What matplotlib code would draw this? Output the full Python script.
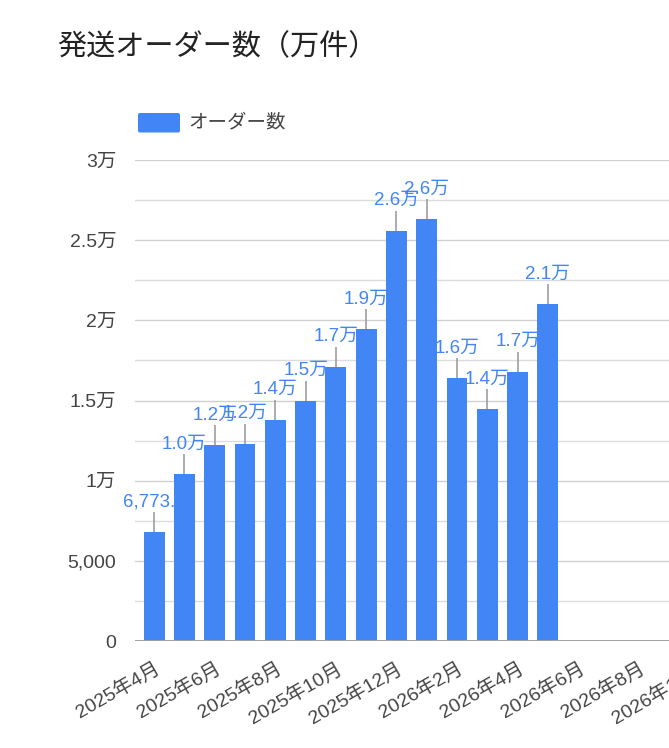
import matplotlib
matplotlib.use('Agg')
import matplotlib.pyplot as plt
from matplotlib.patches import FancyBboxPatch

# Latin digits from Liberation Sans, kana / kanji fall back to Noto CJK
plt.rcParams['font.family'] = ['Liberation Sans', 'Noto Sans CJK JP']

# Monthly shipped orders, 2025-04 .. 2026-05 (index 0 = 2025-04)
month_idx = [0, 1, 2, 3, 4, 5, 6, 7, 8, 9, 10, 11, 12, 13]
orders = [6773.5, 10400, 12200, 12300, 13800, 14980, 17100,
          19450, 25600, 26300, 16400, 14450, 16800, 21000]
upper_err = [1250, 1250, 1250, 1250, 1250, 1250, 1250,
             1250, 1250, 1250, 1250, 1250, 1250, 1250]
bar_labels = ['6,773.5', '1.0万', '1.2万', '1.2万', '1.4万', '1.5万', '1.7万',
              '1.9万', '2.6万', '2.6万', '1.6万', '1.4万', '1.7万', '2.1万']

# date axis ticks every two months
xtick_idx = [0, 2, 4, 6, 8, 10, 12, 14, 16, 18]
xtick_labels = ['2025年4月', '2025年6月', '2025年8月', '2025年10月', '2025年12月',
                '2026年2月', '2026年4月', '2026年6月', '2026年8月', '2026年10月']
ytick_vals = [0, 5000, 10000, 15000, 20000, 25000, 30000]
ytick_labels = ['0', '5,000', '1万', '1.5万', '2万', '2.5万', '3万']
yminor_vals = [2500, 7500, 12500, 17500, 22500, 27500]

blue = '#4285f4'
text_gray = '#444444'

fig = plt.figure(figsize=(6.69, 7.48), dpi=100)
# plot area runs past the right edge of the picture (the chart is cropped there)
ax = fig.add_axes([135 / 669, 107 / 748, 625 / 669, 481 / 748])

ax.bar(month_idx, orders, width=0.69, color=blue, zorder=2)
ax.errorbar(month_idx, orders, yerr=[[0] * len(orders), upper_err], fmt='none',
            ecolor='#9e9e9e', elinewidth=1.2, capsize=0, zorder=3)

for x, v, e, lab in zip(month_idx, orders, upper_err, bar_labels):
    # labels sit behind the bars, like the original
    ax.annotate(lab, (x, v + e), xytext=(0, 4), textcoords='offset points',
                ha='center', va='baseline', fontsize=13.5, color=blue, zorder=1)

ax.set_xlim(-0.63, 20)
ax.set_ylim(0, 30000)

ax.set_yticks(ytick_vals)
ax.set_yticklabels(ytick_labels)
ax.set_yticks(yminor_vals, minor=True)
ax.set_xticks(xtick_idx)
ax.set_xticklabels(xtick_labels, rotation=30, ha='right', va='top',
                   rotation_mode='anchor')

ax.tick_params(axis='y', which='both', length=0, pad=13.5, labelsize=14,
               labelcolor=text_gray)
ax.tick_params(axis='x', length=0, pad=13, labelsize=14, labelcolor=text_gray)

ax.set_axisbelow(True)
ax.grid(axis='y', which='major', color='#d0d0d0', lw=1)
ax.grid(axis='y', which='minor', color='#dcdcdc', lw=1)
for s in ax.spines.values():
    s.set_visible(False)
ax.axhline(0, color='#a0a0a0', lw=1.4, zorder=2.5)

# title and legend, placed in inches from the bottom-left
fig.text(0.57, 7.01, '発送オーダー数（万件）', fontsize=21, color='#222222',
         va='center', ha='left', transform=fig.dpi_scale_trans)

fig.patches.append(FancyBboxPatch((1.38, 6.155), 0.42, 0.195,
                                  boxstyle='round,pad=0,rounding_size=0.02',
                                  fc=blue, ec='none',
                                  transform=fig.dpi_scale_trans, figure=fig))
fig.text(1.88, 6.255, 'オーダー数', fontsize=14, color=text_gray,
         va='center', ha='left', transform=fig.dpi_scale_trans)

fig.savefig('out.png', dpi=100)
